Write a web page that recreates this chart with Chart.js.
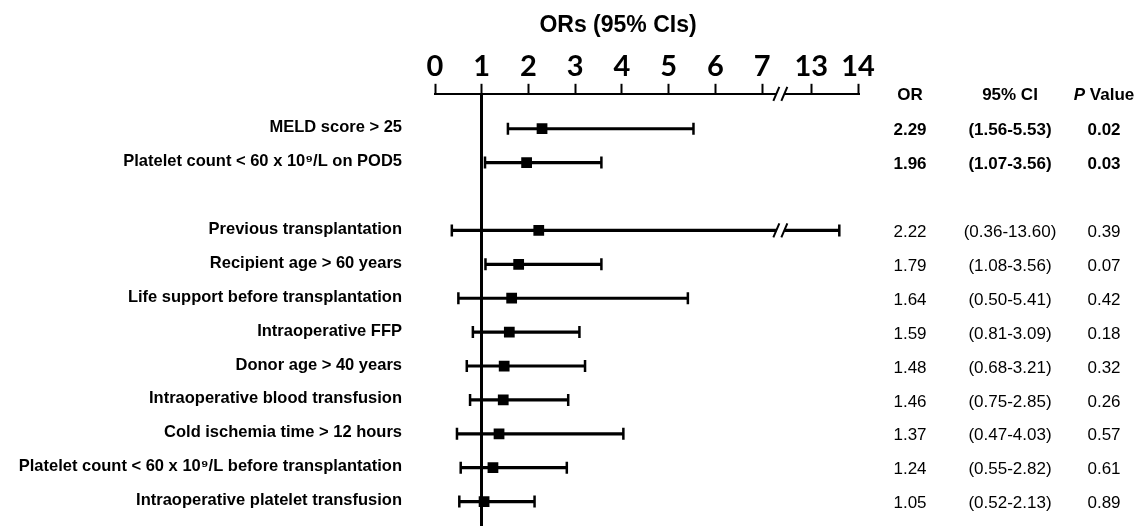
<!DOCTYPE html>
<html>
<head>
<meta charset="utf-8">
<title>ORs (95% CIs)</title>
<script src="https://cdn.jsdelivr.net/npm/chart.js@4.4.0/dist/chart.umd.min.js"></script>
<style>
  body { margin: 0; background: #fff; }
  #wrap { width: 1138px; height: 526px; }
</style>
</head>
<body>
<div id="wrap"><canvas id="orChart" width="1138" height="526"></canvas></div>
<script>
'use strict';

// rows, top to bottom ('' = spacer row)
let rowLabels = [
    'MELD score > 25',
    'Platelet count < 60 x 10\u2079/L on POD5',
    '',
    'Previous transplantation',
    'Recipient age > 60 years',
    'Life support before transplantation',
    'Intraoperative FFP',
    'Donor age > 40 years',
    'Intraoperative blood transfusion',
    'Cold ischemia time > 12 hours',
    'Platelet count < 60 x 10\u2079/L before transplantation',
    'Intraoperative platelet transfusion'
];
let orValues = [2.29, 1.96, null, 2.22, 1.79, 1.64, 1.59, 1.48, 1.46, 1.37, 1.24, 1.05];
let ciLow    = [1.56, 1.07, null, 0.36, 1.08, 0.50, 0.81, 0.68, 0.75, 0.47, 0.55, 0.52];
let ciHigh   = [5.53, 3.56, null, 13.60, 3.56, 5.41, 3.09, 3.21, 2.85, 4.03, 2.82, 2.13];
let pValues  = [0.02, 0.03, null, 0.39, 0.07, 0.42, 0.18, 0.32, 0.26, 0.57, 0.61, 0.89];
let xTicks = [0, 1, 2, 3, 4, 5, 6, 7, 13, 14];

// axis break between 7 and 13
let breakFrom = 7;
let breakTo = 13;
let breakGap = 1.05;

function toInner(v) {
    if (v <= breakFrom) return v;
    if (v >= breakTo) return v - breakTo + breakFrom + breakGap;
    return breakFrom + (v - breakFrom) / (breakTo - breakFrom) * breakGap;
}

class BrokenScale extends Chart.LinearScale {
    getPixelForValue(value) {
        return super.getPixelForValue(toInner(value));
    }
}
BrokenScale.id = 'broken';
BrokenScale.defaults = { ticks: { callback: Chart.Ticks.formatters.numeric } };
Chart.register(BrokenScale);

let markerPoints = [];
let capPoints = [];
let ciBars = [];
for (let i = 0; i < rowLabels.length; i++) {
    if (orValues[i] === null) continue;
    markerPoints.push({ x: orValues[i], y: i });
    capPoints.push({ x: ciLow[i], y: i }, { x: ciHigh[i], y: i });
    ciBars.push({ x: [ciLow[i], ciHigh[i]], y: i });
}

function drawBreak(ctx, x, y) {
    ctx.save();
    ctx.fillStyle = '#fff';
    ctx.fillRect(x - 4, y - 3, 8, 6);
    ctx.strokeStyle = '#000';
    ctx.lineWidth = 2;
    ctx.beginPath();
    [-4, 4].forEach(function (dx) {
        ctx.moveTo(x + dx - 3, y + 7);
        ctx.lineTo(x + dx + 3, y - 7);
    });
    ctx.stroke();
    ctx.restore();
}

let extras = {
    id: 'extras',
    afterDatasetsDraw(chart) {
        let ctx = chart.ctx;
        let xs = chart.scales.x;
        let ys = chart.scales.y;
        let x7 = xs.getPixelForValue(breakFrom);
        let x13 = xs.getPixelForValue(breakTo);
        let bx = x7 + 0.37 * (x13 - x7);
        drawBreak(ctx, bx, xs.bottom);
        for (let i = 0; i < rowLabels.length; i++) {
            if (ciHigh[i] !== null && ciHigh[i] > breakFrom) {
                drawBreak(ctx, bx, ys.getPixelForValue(i));
            }
        }
    },
    afterDraw(chart) {
        let ctx = chart.ctx;
        let ys = chart.scales.y;
        ctx.save();
        ctx.fillStyle = '#000';
        ctx.textAlign = 'center';
        ctx.textBaseline = 'middle';

        ctx.font = 'bold 23px "Liberation Sans", Arial';
        ctx.fillText('ORs (95% CIs)', 618, 26);

        let orCol = 910, ciCol = 1010, pCol = 1104;
        ctx.font = 'bold 17px "Liberation Sans", Arial';
        ctx.fillText('OR', orCol, 95);
        ctx.fillText('95% CI', ciCol, 95);
        // "P Value" with italic P
        ctx.font = 'italic bold 17px "Liberation Sans", Arial';
        let wP = ctx.measureText('P').width;
        ctx.font = 'bold 17px "Liberation Sans", Arial';
        let wV = ctx.measureText(' Value').width;
        let start = pCol - (wP + wV) / 2;
        ctx.textAlign = 'left';
        ctx.font = 'italic bold 17px "Liberation Sans", Arial';
        ctx.fillText('P', start, 95);
        ctx.font = 'bold 17px "Liberation Sans", Arial';
        ctx.fillText(' Value', start + wP, 95);
        ctx.textAlign = 'center';

        for (let i = 0; i < rowLabels.length; i++) {
            if (orValues[i] === null) continue;
            let y = ys.getPixelForValue(i) + 2;
            ctx.font = (pValues[i] < 0.05 ? 'bold ' : '') + '17px "Liberation Sans", Arial';
            ctx.fillText(orValues[i].toFixed(2), orCol, y);
            ctx.fillText('(' + ciLow[i].toFixed(2) + '-' + ciHigh[i].toFixed(2) + ')', ciCol, y);
            ctx.fillText(pValues[i].toFixed(2), pCol, y);
        }
        ctx.restore();
    }
};

let ctx = document.getElementById('orChart').getContext('2d');
let orChart = new Chart(ctx, {
    type: 'bar',
    data: {
        datasets: [{
            type: 'scatter',
            label: 'OR',
            data: markerPoints,
            pointStyle: 'rect',
            pointRadius: 7.6,
            pointHoverRadius: 7.6,
            backgroundColor: '#000',
            borderColor: '#000',
            borderWidth: 0,
            order: 0
        }, {
            type: 'scatter',
            label: 'CI caps',
            data: capPoints,
            pointStyle: 'line',
            pointRotation: 90,
            pointRadius: 6,
            pointHoverRadius: 6,
            borderColor: '#000',
            borderWidth: 2.5,
            order: 1
        }, {
            type: 'bar',
            label: '95% CI',
            data: ciBars,
            indexAxis: 'y',
            barThickness: 2.5,
            backgroundColor: '#000',
            borderWidth: 0,
            order: 2
        }]
    },
    options: {
        responsive: false,
        animation: false,
        indexAxis: 'y',
        layout: { autoPadding: false, padding: { top: 49, right: 280, left: 0, bottom: 0 } },
        plugins: {
            legend: { display: false },
            tooltip: { enabled: false }
        },
        scales: {
            x: {
                type: 'broken',
                position: 'top',
                bounds: 'data',
                offset: false,
                min: 0,
                max: toInner(14),
                afterBuildTicks: function (axis) {
                    axis.ticks = xTicks.map(function (v) { return { value: v }; });
                },
                ticks: {
                    color: '#000',
                    autoSkip: false,
                    maxRotation: 0,
                    padding: 0,
                    font: { family: 'Lato', weight: 'bold', size: 29 },
                    callback: function (v) { return String(v); }
                },
                grid: {
                    color: function (c) { return c.tick && c.tick.value === 1 ? '#000' : 'rgba(0,0,0,0)'; },
                    lineWidth: 3,
                    tickColor: '#000',
                    tickWidth: 2,
                    tickLength: 10
                },
                border: { display: true, color: '#000', width: 2 }
            },
            y: {
                type: 'linear',
                reverse: true,
                offset: false,
                bounds: 'data',
                min: -1.03,
                max: 11.72,
                afterBuildTicks: function (axis) {
                    axis.ticks = rowLabels.map(function (l, i) { return { value: i }; });
                },
                afterFit: function (axis) {
                    axis.width = 435;
                    axis.paddingTop = 0;
                    axis.paddingBottom = 0;
                },
                ticks: {
                    color: '#000',
                    autoSkip: false,
                    padding: 33,
                    labelOffset: -1,
                    font: { family: '"Liberation Sans", Arial', weight: 'bold', size: 16.5 },
                    callback: function (v) { return rowLabels[v]; }
                },
                grid: { display: false, drawTicks: false },
                border: { display: false }
            }
        }
    },
    plugins: [extras]
});
</script>
</body>
</html>
